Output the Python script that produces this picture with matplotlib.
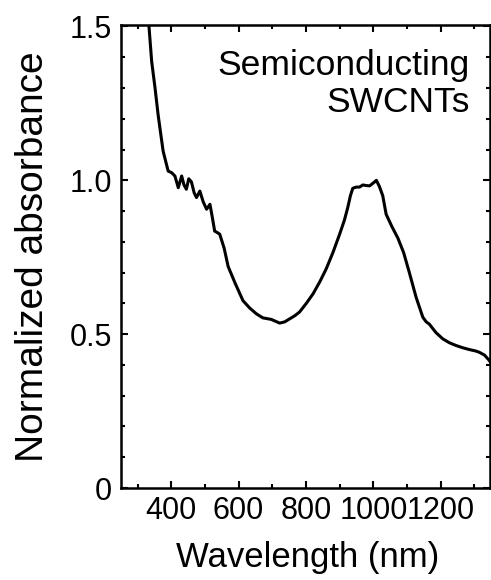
import matplotlib
matplotlib.use("Agg")
import matplotlib.pyplot as plt
from matplotlib.ticker import MultipleLocator, FixedLocator, FuncFormatter

plt.rcParams['font.family'] = ['Liberation Sans', 'DejaVu Sans']

# Absorption spectrum of semiconducting SWCNTs (normalized)
wavelength_nm = [328, 334, 342, 352, 361, 369, 376, 384, 391, 401, 411, 421, 431, 438,
                 445, 452, 460, 468, 475, 485, 495, 505, 515, 522, 529, 537, 544, 557,
                 569, 590, 613, 633, 653, 672, 697, 722, 737, 752, 767, 781, 801, 821,
                 841, 860, 880, 900, 914, 924, 932, 939, 949, 959, 969, 979, 989, 1003,
                 1009, 1018, 1028, 1038, 1055, 1073, 1090, 1107, 1127, 1147, 1157, 1166,
                 1186, 1206, 1226, 1246, 1265, 1285, 1305, 1315, 1330, 1344, 1350]
absorbance = [1.56, 1.50, 1.386, 1.30, 1.214, 1.15, 1.095, 1.06, 1.03, 1.025, 1.014, 0.976,
              1.014, 0.985, 0.971, 1.005, 0.995, 0.96, 0.944, 0.965, 0.93, 0.906, 0.922,
              0.88, 0.835, 0.83, 0.825, 0.78, 0.72, 0.665, 0.609, 0.585, 0.566, 0.553,
              0.548, 0.536, 0.54, 0.55, 0.56, 0.572, 0.60, 0.631, 0.67, 0.712, 0.765,
              0.825, 0.87, 0.911, 0.95, 0.974, 0.978, 0.978, 0.985, 0.983, 0.982, 0.994,
              1.0, 0.98, 0.95, 0.89, 0.85, 0.812, 0.765, 0.70, 0.62, 0.555, 0.54, 0.533,
              0.505, 0.485, 0.472, 0.463, 0.456, 0.45, 0.445, 0.441, 0.432, 0.415, 0.405]

x_major = [400, 600, 800, 1000, 1200]
y_major = [0, 0.5, 1.0, 1.5]
y_labels = ['0', '0.5', '1.0', '1.5']


def y_fmt(v, pos):
    v = round(v, 2)
    return y_labels[y_major.index(v)] if v in y_major else ''


fig = plt.figure(figsize=(4.91, 5.80), dpi=100)
ax = fig.add_axes([0.2458, 0.1586, 0.7512, 0.7984])

ax.plot(wavelength_nm, absorbance, color='black', lw=2.2, solid_joinstyle='round')

ax.set_xlim(250, 1345)
ax.set_ylim(0, 1.505)

ax.xaxis.set_major_locator(FixedLocator(x_major))
ax.xaxis.set_minor_locator(MultipleLocator(100))
ax.yaxis.set_major_locator(FixedLocator(y_major))
ax.yaxis.set_minor_locator(MultipleLocator(0.1))
ax.yaxis.set_major_formatter(FuncFormatter(y_fmt))

ax.tick_params(which='both', direction='in', top=True, right=True, width=1.5,
               labelsize=22, color='black', labelcolor='black')
ax.tick_params(which='major', length=5, pad=6)
ax.tick_params(which='minor', length=3)
for s in ax.spines.values():
    s.set_linewidth(1.8)

ax.set_xlabel('Wavelength (nm)', fontsize=25, labelpad=14)
ax.xaxis.set_label_coords(0.507, -0.115)
ax.set_ylabel('Normalized absorbance', fontsize=28)
ax.yaxis.set_label_coords(-0.19, 0.5)

ax.text(0.946, 0.892, 'Semiconducting', transform=ax.transAxes, ha='right',
        va='baseline', fontsize=25.5)
ax.text(0.946, 0.812, 'SWCNTs', transform=ax.transAxes, ha='right',
        va='baseline', fontsize=25.5)

fig.savefig('out.png', dpi=100)
